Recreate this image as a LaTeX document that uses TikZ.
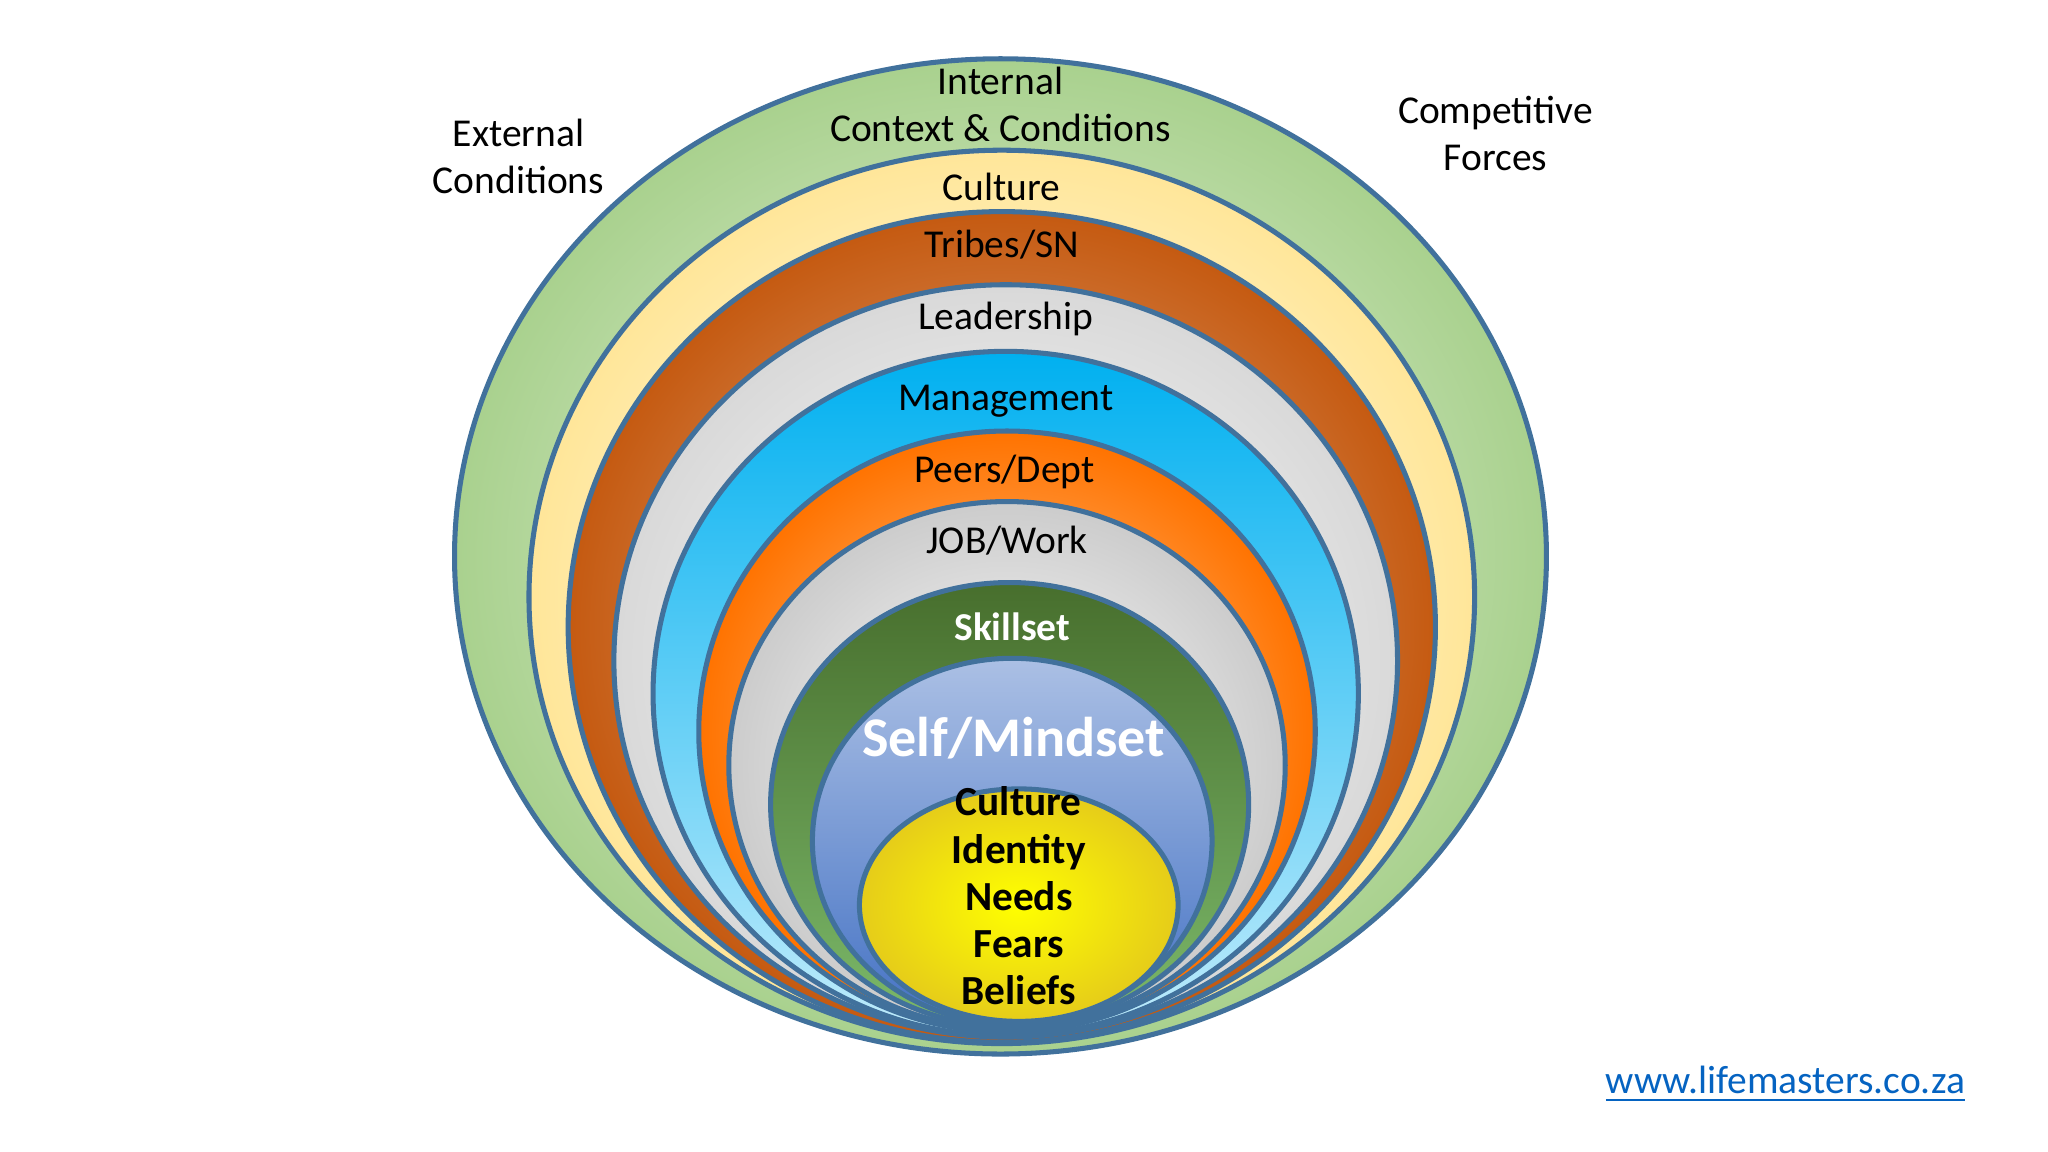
\documentclass[tikz,border=0pt]{standalone}
\usepackage{fontspec}
\setmainfont{Carlito}
\usepackage{tikz}

\definecolor{rim}{HTML}{41719C}
\definecolor{linkblue}{HTML}{0563C1}
\definecolor{sage}{HTML}{A9D18E}
\definecolor{paleg}{HTML}{E2F0D9}
\definecolor{cream}{HTML}{FFE699}
\definecolor{rust}{HTML}{C55A11}
\definecolor{sky}{HTML}{00B0F0}
\definecolor{skill}{HTML}{548235}
\definecolor{selfb}{HTML}{4472C4}

\begin{document}
\begin{tikzpicture}[
            x=0.01cm,y=-0.01cm,
            ring/.style={draw=rim,line width=1.1pt},
            lab/.style={align=center,font=\fontsize{8.6}{10.2}\selectfont},
            core/.style={align=center,font=\fontsize{9}{10.3}\selectfont\bfseries}
          ]
          \useasboundingbox (0,0) rectangle (1568,882);
          %rings, outside in
          \path[ring,inner color=paleg!60!white,outer color=sage] (766,426) ellipse [x radius=418,y radius=381];
          \path[ring,inner color=white,outer color=cream] (767,457) ellipse [x radius=362,y radius=342];
          \path[ring,inner color=rust!45!white,outer color=rust] (767,480) ellipse [x radius=332,y radius=318];
          \path[ring,inner color=white,outer color=black!15] (770,506) ellipse [x radius=300,y radius=288];
          \path[ring,top color=sky,bottom color=sky!25!white] (770,531) ellipse [x radius=270,y radius=262];
          \path[ring,inner color=orange!40!white,outer color=orange!90!red] (771,560) ellipse [x radius=236,y radius=230];
          \path[ring,inner color=white,outer color=black!20] (771,586) ellipse [x radius=213,y radius=202];
          \path[ring,top color=skill!85!black,bottom color=skill!80!green!70!white] (773,616) ellipse [x radius=183,y radius=170];
          \path[ring,top color=selfb!45!white,bottom color=selfb] (775,644) ellipse [x radius=153,y radius=140];
          \path[ring,inner color=yellow,outer color=yellow!60!brown] (780,693) ellipse [x radius=122,y radius=89];

          %labels
          \node[lab] (ext) at (397,120) {External\\Conditions};
          \node[lab] (comp) at (1145,102) {Competitive\\Forces};
          \node[lab] (int) at (766,80) {Internal\\Context \& Conditions};
          \node[lab] (cult) at (767,143) {Culture};
          \node[lab] (tribe) at (767,187) {Tribes/SN};
          \node[lab] (lead) at (770,244) {Leadership};
          \node[lab] (mgmt) at (770,307) {Management};
          \node[lab] (peer) at (769,361) {Peers/Dept};
          \node[lab] (job) at (771,414) {JOB/Work};
          \node[lab,text=white,font=\fontsize{8.6}{10.2}\selectfont\bfseries] (skill) at (775,480) {Skillset};
          \node[text=white,font=\fontsize{12.2}{14}\selectfont\bfseries] (self) at (776,565) {Self/Mindset};
          \node[core] (inner) at (780,686) {Culture\\Identity\\Needs\\Fears\\Beliefs};
          \node[text=linkblue,font=\fontsize{8.6}{10.2}\selectfont] (url) at (1367,830) {\underline{www.lifemasters.co.za}};
\end{tikzpicture}
\end{document}
